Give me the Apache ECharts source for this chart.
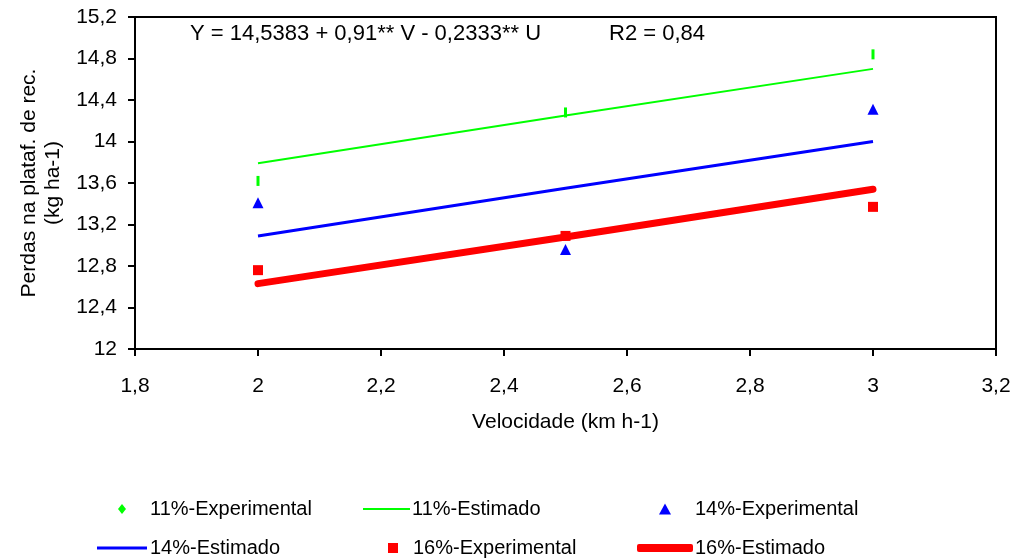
<!DOCTYPE html>
<html>
<head>
<meta charset="utf-8">
<script src="https://cdn.jsdelivr.net/npm/echarts@6/dist/echarts.min.js"></script>
<style>
  html, body { margin: 0; padding: 0; background: #fff; }
  #chart { width: 1020px; height: 558px; }
</style>
</head>
<body>
<div id="chart"></div>
<script>
  var velocidade = [2, 2.5, 3];
  var exp11 = [13.62, 14.28, 14.84];
  var est11 = [13.79, 14.25, 14.70];
  var exp14 = [13.41, 12.96, 14.31];
  var est14 = [13.09, 13.55, 14.00];
  var exp16 = [12.76, 13.09, 13.37];
  var est16 = [12.63, 13.08, 13.54];

  function pairs(values) {
    return velocidade.map(function (v, i) { return [v, values[i]]; });
  }
  function comma(v) {
    return String(Math.round(v * 10) / 10).replace('.', ',');
  }

  var font = 'Liberation Sans, Arial, sans-serif';
  var chart = echarts.init(document.getElementById('chart'), null, { renderer: 'canvas' });

  // one legend per item so each can sit where the original puts it
  function legendAt(item, left, top, w, h, textPad) {
    return {
      data: [item],
      left: left,
      top: top,
      itemWidth: w,
      itemHeight: h,
      itemGap: 0,
      padding: 0,
      selectedMode: false,
      textStyle: { fontFamily: font, fontSize: 20, color: '#000', padding: [0, 0, 0, textPad] }
    };
  }

  chart.setOption({
    backgroundColor: '#fff',
    animation: false,
    grid: {
      left: 135, right: 24, top: 17, bottom: 209,
      show: true, borderColor: '#000', borderWidth: 2, backgroundColor: 'transparent'
    },
    xAxis: {
      type: 'value',
      min: 1.8, max: 3.2, interval: 0.2,
      name: 'Velocidade (km h-1)',
      nameLocation: 'middle',
      nameGap: 63,
      nameTextStyle: { fontFamily: font, fontSize: 21, color: '#000' },
      axisLine: { lineStyle: { color: '#000', width: 2 } },
      axisTick: { inside: false, length: 7, lineStyle: { color: '#000', width: 2 } },
      axisLabel: { margin: 27, fontFamily: font, fontSize: 21, color: '#000', formatter: comma },
      splitLine: { show: false }
    },
    yAxis: {
      type: 'value',
      min: 12, max: 15.2, interval: 0.4,
      name: 'Perdas na plataf. de rec.\n(kg ha-1)',
      nameLocation: 'middle',
      nameGap: 70,
      nameRotate: 90,
      nameTextStyle: { fontFamily: font, fontSize: 21, color: '#000', lineHeight: 24 },
      axisLine: { lineStyle: { color: '#000', width: 2 } },
      axisTick: { inside: false, length: 7, lineStyle: { color: '#000', width: 2 } },
      axisLabel: { margin: 18, fontFamily: font, fontSize: 21, color: '#000', formatter: comma },
      splitLine: { show: false }
    },
    legend: [
      legendAt({ name: '11%-Experimental', icon: 'diamond' }, 118, 499, 8, 10, 19),
      legendAt({ name: '11%-Estimado', icon: 'rect' }, 363, 499, 47, 2, -3),
      legendAt({ name: '14%-Experimental', icon: 'triangle' }, 659, 499, 12, 11, 19),
      legendAt({ name: '14%-Estimado', icon: 'rect' }, 97, 538, 50, 3, -2),
      legendAt({ name: '16%-Experimental', icon: 'rect' }, 388, 538, 10, 10, 10),
      legendAt({ name: '16%-Estimado', icon: 'roundRect' }, 637, 538, 56, 8, -3)
    ],
    graphic: [
      { type: 'text', left: 190, top: 23, style: { text: 'Y = 14,5383 + 0,91** V - 0,2333** U', font: '22px ' + font, fill: '#000' } },
      { type: 'text', left: 609, top: 23, style: { text: 'R2 = 0,84', font: '22px ' + font, fill: '#000' } }
    ],
    series: [
      {
        name: '11%-Experimental', type: 'scatter', data: pairs(exp11),
        symbol: 'rect', symbolSize: [3, 10],
        itemStyle: { color: '#00ff00', opacity: 1 }
      },
      {
        name: '11%-Estimado', type: 'line', data: pairs(est11),
        symbol: 'none', lineStyle: { color: '#00ff00', width: 2 }, itemStyle: { color: '#00ff00' }
      },
      {
        name: '14%-Experimental', type: 'scatter', data: pairs(exp14),
        symbol: 'triangle', symbolSize: 11,
        itemStyle: { color: '#0000ff', opacity: 1 }
      },
      {
        name: '14%-Estimado', type: 'line', data: pairs(est14),
        symbol: 'none', lineStyle: { color: '#0000ff', width: 3 }, itemStyle: { color: '#0000ff' }
      },
      {
        name: '16%-Experimental', type: 'scatter', data: pairs(exp16),
        symbol: 'rect', symbolSize: 10,
        itemStyle: { color: '#ff0000', opacity: 1 }
      },
      {
        name: '16%-Estimado', type: 'line', data: pairs(est16),
        symbol: 'none', lineStyle: { color: '#ff0000', width: 7, cap: 'round' }, itemStyle: { color: '#ff0000' }
      }
    ]
  });
</script>
</body>
</html>
